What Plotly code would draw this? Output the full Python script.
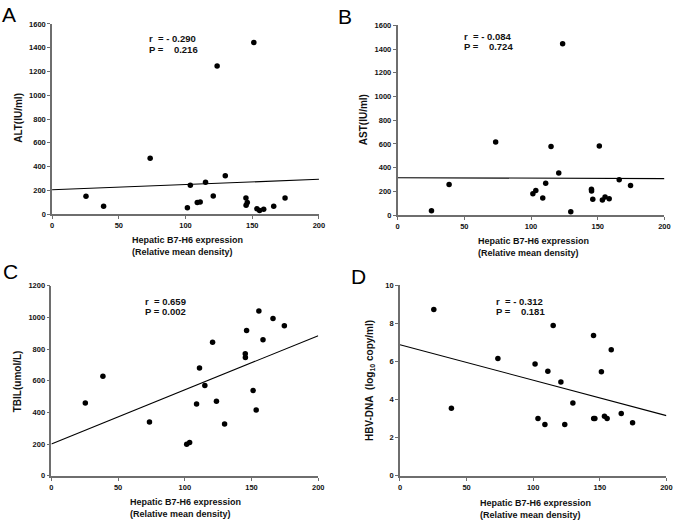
import plotly.graph_objects as go

W, H = 681, 526

# ---------------- data ----------------
expression = [25.4, 38.6, 73.5, 101.4, 103.6, 108.8, 111.0, 115.0, 120.8, 123.7,
              129.8, 145.3, 145.4, 146.3, 151.2, 153.5, 155.5, 158.6, 166.1, 174.6]

alt_values = [149, 66, 469, 52, 243, 97, 102, 268, 152, 1247,
              323, 135, 74, 97, 1443, 44, 30, 41, 66, 135]

ast_values = [36, 257, 616, 180, 207, 144, 268, 578, 354, 1445,
              28, 218, 202, 133, 583, 127, 152, 138, 298, 249]

tbil_values = [459, 629, 339, 199, 211, 453, 681, 571, 844, 470,
               327, 770, 747, 917, 538, 416, 1041, 859, 993, 948]

hbv_values = [8.74, 3.55, 6.16, 5.87, 3.01, 2.70, 5.49, 7.90, 4.92, 2.70,
              3.82, 7.37, 3.01, 3.01, 5.46, 3.13, 3.01, 6.62, 3.27, 2.79]

# fitted line: value at x = 0 and slope
fit_intercepts = [204, 315, 201, 6.88]
fit_slopes = [0.442, -0.04, 3.42, -0.0186]

panel_letters = ["A", "B", "C", "D"]
y_titles = ["ALT(IU/ml)", "AST(IU/ml)", "TBIL(umol/L)",
            "HBV-DNA\u00a0\u00a0(log<sub>10</sub> copy/ml)"]
r_texts = ["r\u00a0\u00a0= - 0.290", "r\u00a0\u00a0= - 0.084", "r\u00a0\u00a0= 0.659", "r\u00a0\u00a0= - 0.312"]
p_texts = ["P =\u00a0\u00a0\u00a0 0.216", "P =\u00a0\u00a0\u00a0 0.724", "P = 0.002", "P =\u00a0\u00a0\u00a0 0.181"]
y_ranges = [[0, 1600], [0, 1600], [0, 1200], [0, 10]]
y_dticks = [200, 200, 200, 2]
x_ticks = [0, 50, 100, 150, 200]
x_title = "Hepatic B7-H6 expression<br>(Relative mean density)"
series = [alt_values, ast_values, tbil_values, hbv_values]

# ---------------- layout geometry (pixels) ----------------
plot_boxes = [  # left, right, top, bottom
    (50.7, 320.7, 20.3, 213.7),
    (400.3, 670.3, 21.7, 214.7),
    (50.0, 320.0, 286.7, 480.0),
    (402.7, 672.3, 286.3, 480.0),
]
letter_pos = [(7.5, 10.5), (347.5, 12.5), (9, 272.5), (360.5, 277.5)]
ytitle_pos = [(16, 116), (366.5, 118), (16, 384), (373, 383)]
rp_pos = [(146.7, 35, 46), (465.7, 33, 43), (142.7, 302.5, 313), (497.7, 302.5, 313)]
xtitle_pos = [(130, 246), (480, 247), (127.3, 512.5), (481.7, 513.5)]


def fx(px):
    return px / W


def fy(py):
    return 1 - py / H


AX_COL = "#6e6e6e"
TXT_COL = "#111111"
FONT = "Liberation Sans, Arial, sans-serif"

fig = go.Figure()
layout = dict(
    width=W, height=H, autosize=False,
    margin=dict(l=0, r=0, t=0, b=0),
    paper_bgcolor="white", plot_bgcolor="white",
    showlegend=False,
    font=dict(family=FONT, color=TXT_COL),
)
annotations = []

for i in range(4):
    xs = "" if i == 0 else str(i + 1)
    xa, ya = "x" + xs, "y" + xs
    l, r, t, b = plot_boxes[i]
    layout["xaxis" + xs] = dict(
        domain=[fx(l), fx(r)], anchor=ya, range=[0, 200],
        tickmode="array", tickvals=x_ticks,
        showline=True, linecolor=AX_COL, linewidth=1.6,
        ticks="outside", ticklen=3, tickcolor=AX_COL, tickwidth=1,
        showgrid=False, zeroline=False,
        tickfont=dict(size=7.5, family=FONT, weight="bold", color=TXT_COL),
    )
    layout["yaxis" + xs] = dict(
        domain=[fy(b), fy(t)], anchor=xa, range=y_ranges[i],
        tick0=0, dtick=y_dticks[i],
        showline=True, linecolor=AX_COL, linewidth=1.6,
        ticks="outside", ticklen=3, tickcolor=AX_COL, tickwidth=1,
        showgrid=False, zeroline=False,
        tickfont=dict(size=7.5, family=FONT, weight="bold", color=TXT_COL),
    )
    fig.add_trace(go.Scatter(
        x=expression, y=series[i], mode="markers",
        marker=dict(color="black", size=5.5, line=dict(width=0)),
        xaxis=xa, yaxis=ya, cliponaxis=False,
    ))
    x_line = [0, 200]
    y_line = [fit_intercepts[i] + fit_slopes[i] * xv for xv in x_line]
    fig.add_trace(go.Scatter(
        x=x_line, y=y_line, mode="lines",
        line=dict(color="black", width=1.1),
        xaxis=xa, yaxis=ya,
    ))

    lx, ly = letter_pos[i]
    annotations.append(dict(
        text=panel_letters[i], x=fx(lx), y=fy(ly), xref="paper", yref="paper",
        xanchor="center", yanchor="middle", showarrow=False,
        font=dict(size=21, family=FONT, color="black"),
    ))
    tx, ty = ytitle_pos[i]
    annotations.append(dict(
        text=y_titles[i], x=fx(tx), y=fy(ty), xref="paper", yref="paper",
        xanchor="center", yanchor="middle", showarrow=False, textangle=-90,
        font=dict(size=10, family=FONT, weight="bold", color=TXT_COL),
    ))
    rx, ry, py_ = rp_pos[i]
    annotations.append(dict(
        text=r_texts[i], x=fx(rx), y=fy(ry), xref="paper", yref="paper",
        xanchor="left", yanchor="middle", showarrow=False,
        font=dict(size=9.5, family=FONT, weight="bold", color=TXT_COL),
    ))
    annotations.append(dict(
        text=p_texts[i], x=fx(rx), y=fy(py_), xref="paper", yref="paper",
        xanchor="left", yanchor="middle", showarrow=False,
        font=dict(size=9.5, family=FONT, weight="bold", color=TXT_COL),
    ))
    xx, xy = xtitle_pos[i]
    annotations.append(dict(
        text=x_title, x=fx(xx), y=fy(xy), xref="paper", yref="paper",
        xanchor="left", yanchor="middle", align="left", showarrow=False,
        font=dict(size=9, family=FONT, weight="bold", color=TXT_COL),
    ))

layout["annotations"] = annotations
fig.update_layout(**layout)
fig.write_html(
    "out.html",
    config={"displayModeBar": False},
    post_script="document.body.style.margin='0';document.body.style.overflow='hidden';",
)
